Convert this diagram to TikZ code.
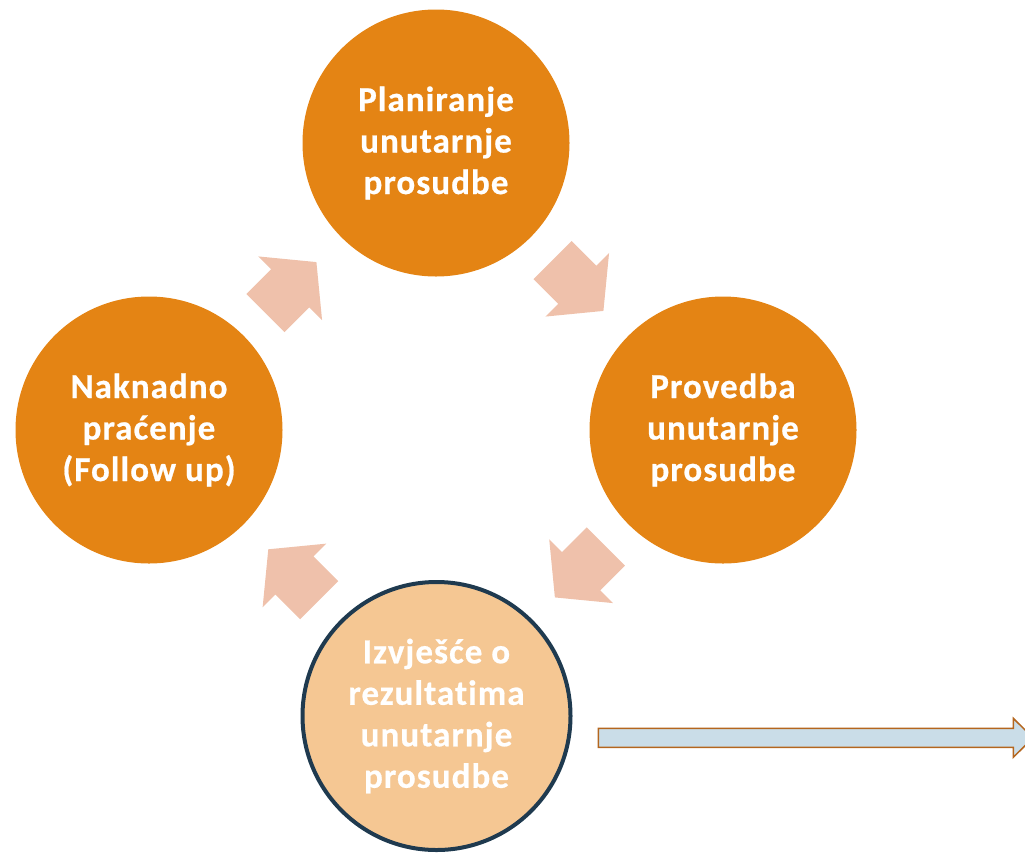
\documentclass[tikz,border=0pt]{standalone}
\usepackage{fontspec}
\setmainfont{Carlito}[LetterSpace=3, Ligatures=NoCommon, BoldFeatures={FakeBold=0.6}]
\definecolor{orangec}{HTML}{E48414}
\definecolor{chevc}{HTML}{EFC1AB}
\definecolor{peachc}{HTML}{F5C793}
\definecolor{navyc}{HTML}{1F3A4F}
\definecolor{bluec}{HTML}{CADDE8}
\definecolor{brownc}{HTML}{B4661E}
\begin{document}
\begin{tikzpicture}[x=1pt,y=-1pt,
  phase/.style={circle, fill=orangec, minimum size=267pt, inner sep=0pt,
    text=white, font=\fontsize{35}{41.5}\selectfont\bfseries, align=center},
  report/.style={phase, fill=peachc, draw=navyc, line width=4pt, minimum size=268pt},
  chevron/.pic={\fill[chevc] (0,-27) -- (35,-27) -- (35,-45) -- (72,0) -- (35,45) -- (35,27) -- (0,27) -- cycle;},
  bigarrow/.style={fill=bluec, draw=brownc, line width=1.5pt, line join=miter}]
\clip (0,0) rectangle (1025,852);
\useasboundingbox (0,0) rectangle (1025,852);
\node[phase] (plan) at (436,143) {Planiranje\\unutarnje\\prosudbe};
\node[phase] (prov) at (723,430) {Provedba\\unutarnje\\prosudbe};
\node[phase] (follow) at (149,430) {Naknadno\\praćenje\\(Follow up)};
\node[report] (rep) at (436.5,716) {Izvješće o\\rezultatima\\unutarnje\\prosudbe};
\coordinate (c1) at (552.5,260);
\coordinate (c2) at (605.8,546.5);
\coordinate (c3) at (319.2,600.2);
\coordinate (c4) at (265.5,313);
\pic[rotate=-45] at (c1) {chevron};
\pic[rotate=-135] at (c2) {chevron};
\pic[rotate=135] at (c3) {chevron};
\pic[rotate=45] at (c4) {chevron};
\coordinate (arrstart) at (598.3,737.8);
\coordinate (arrtip) at (1033,737.8);
\draw[bigarrow] ([yshift=9.5pt]arrstart) -- ([yshift=9.5pt]arrstart -| 1013.3,0) -- ([yshift=19.5pt]arrstart -| 1013.3,0) -- (arrtip) -- ([yshift=-19.5pt]arrstart -| 1013.3,0) -- ([yshift=-9.5pt]arrstart -| 1013.3,0) -- ([yshift=-9.5pt]arrstart) -- cycle;
\end{tikzpicture}
\end{document}
